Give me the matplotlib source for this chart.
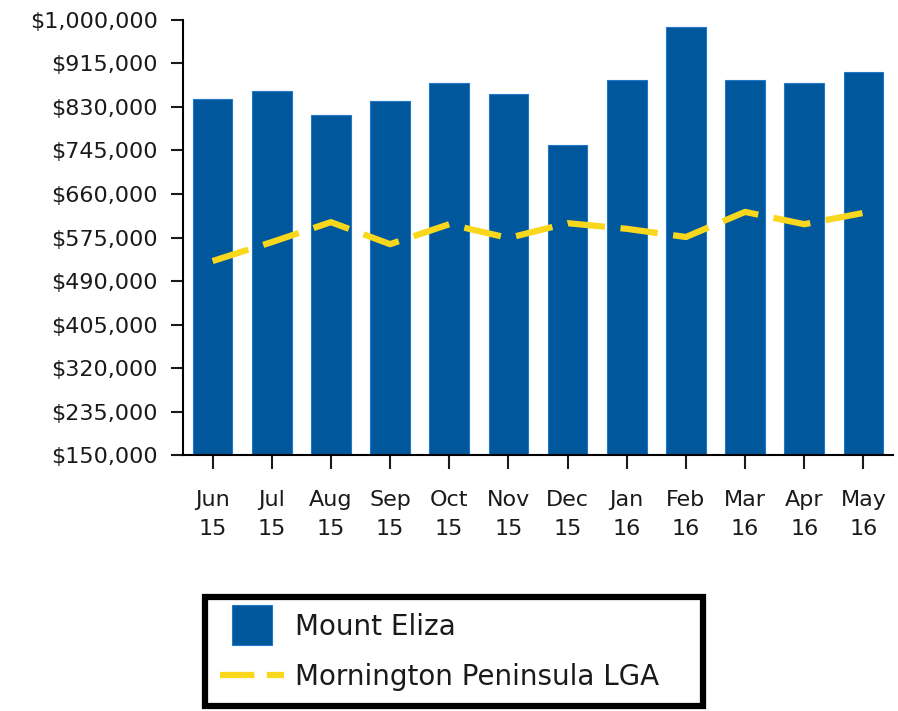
import numpy as np
import matplotlib
matplotlib.use('Agg')
from matplotlib import pyplot as plt
from matplotlib.lines import Line2D
from matplotlib.ticker import FuncFormatter

months = ['Jun\n15', 'Jul\n15', 'Aug\n15', 'Sep\n15', 'Oct\n15', 'Nov\n15',
          'Dec\n15', 'Jan\n16', 'Feb\n16', 'Mar\n16', 'Apr\n16', 'May\n16']
mount_eliza = [845000, 861000, 814000, 842000, 877000, 855000,
               756000, 883000, 986000, 883000, 877000, 898000]
mornington = [529000, 566000, 605000, 562000, 601000, 574000,
              603000, 592000, 576000, 625000, 601000, 623000]
yticks = list(range(150000, 1000001, 85000))

BLUE = '#00579c'
YELLOW = '#f9d71c'
plt.rcParams['font.family'] = ['DejaVu Sans']

fig = plt.figure(figsize=(8.98, 7.11), dpi=100)
ax = fig.add_axes([0.2038, 0.360, 0.7906, 0.6119])

x = np.arange(len(months))
ax.bar(x, mount_eliza, width=0.67, color=BLUE, edgecolor='#1f78c8',
       linewidth=0.8, zorder=2)
ax.plot(x, mornington, color=YELLOW, linewidth=4.5, dashes=(6, 2.5), zorder=3)

ax.set_xlim(-0.5, len(months) - 0.5)
ax.set_ylim(150000, 1000000)
ax.set_yticks(yticks)
ax.yaxis.set_major_formatter(FuncFormatter(lambda v, p: '${:,.0f}'.format(v)))
ax.set_xticks(x)
ax.set_xticklabels(months, linespacing=1.55)

for s in ['top', 'right']:
    ax.spines[s].set_visible(False)
ax.spines['left'].set_linewidth(1.5)
ax.spines['bottom'].set_linewidth(1.5)
ax.tick_params(axis='y', length=9, width=1.5, labelsize=16, pad=9, colors='#1a1a1a')
ax.tick_params(axis='x', length=10, width=1.5, labelsize=16, pad=15, colors='#1a1a1a')

# legend proxies (square swatch + dashed line)
h_bar = Line2D([], [], marker='s', markersize=29, linestyle='none',
               markerfacecolor=BLUE, markeredgecolor='#1f78c8', markeredgewidth=0.8)
h_line = Line2D([], [], color=YELLOW, linewidth=4.5, dashes=(5.5, 2))
leg = fig.legend([h_bar, h_line], ['Mount Eliza', 'Mornington Peninsula LGA'],
                 loc='upper left', bbox_to_anchor=(0.2283, 0.001, 0.5546, 0.159),
                 mode='expand', fontsize=20, frameon=True, fancybox=False,
                 framealpha=1, edgecolor='black', handlelength=2.3,
                 handletextpad=0.4, borderaxespad=0, labelspacing=0.8,
                 borderpad=0.55)
leg.get_frame().set_linewidth(4.5)
for t in leg.get_texts():
    t.set_color('#1a1a1a')

fig.savefig('out.png', dpi=100)
